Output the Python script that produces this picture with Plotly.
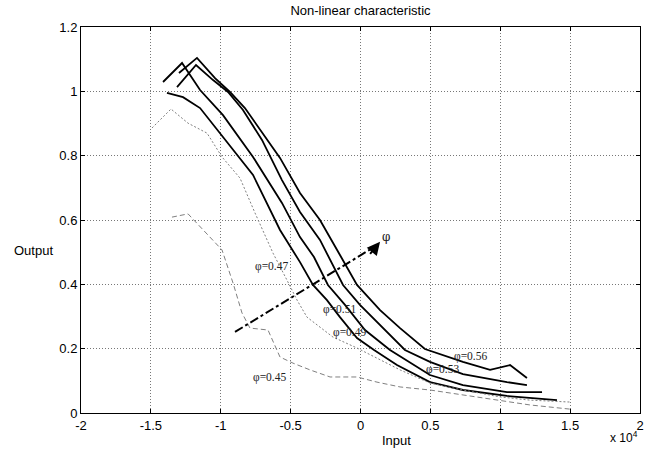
import plotly.graph_objects as go

# Input values in units of 10^4
x_056 = [-1.299, -1.170, -1.041, -0.934, -0.827, -0.705, -0.576, -0.433, -0.290, -0.147, -0.025, 0.140, 0.283, 0.461, 0.733, 0.927, 1.070, 1.191]
y_056 = [1.057, 1.104, 1.041, 0.998, 0.948, 0.873, 0.793, 0.684, 0.600, 0.491, 0.398, 0.320, 0.264, 0.199, 0.159, 0.134, 0.149, 0.109]

x_053 = [-1.313, -1.177, -1.055, -0.948, -0.841, -0.705, -0.562, -0.433, -0.290, -0.125, -0.004, 0.140, 0.318, 0.497, 0.733, 1.048, 1.191]
y_053 = [1.013, 1.082, 1.035, 0.998, 0.942, 0.849, 0.724, 0.625, 0.538, 0.398, 0.336, 0.274, 0.196, 0.159, 0.121, 0.096, 0.087]

x_051 = [-1.413, -1.277, -1.148, -0.984, -0.769, -0.562, -0.433, -0.333, -0.233, -0.111, 0.032, 0.211, 0.497, 0.733, 1.048, 1.299]
y_051 = [1.029, 1.088, 1.004, 0.926, 0.796, 0.653, 0.547, 0.485, 0.398, 0.336, 0.258, 0.196, 0.118, 0.087, 0.065, 0.065]

x_049 = [-1.385, -1.270, -1.148, -1.005, -0.769, -0.576, -0.433, -0.340, -0.240, -0.147, -0.025, 0.097, 0.261, 0.497, 0.733, 1.048, 1.406]
y_049 = [0.995, 0.982, 0.948, 0.870, 0.740, 0.569, 0.469, 0.398, 0.351, 0.298, 0.233, 0.196, 0.149, 0.096, 0.0715, 0.053, 0.040]

x_047 = [-1.492, -1.356, -1.234, -1.098, -0.991, -0.862, -0.755, -0.626, -0.526, -0.454, -0.383, -0.197, -0.025, 0.283, 0.497, 0.733, 0.998, 1.213, 1.500]
y_047 = [0.886, 0.945, 0.901, 0.870, 0.796, 0.730, 0.622, 0.497, 0.413, 0.351, 0.298, 0.236, 0.202, 0.134, 0.093, 0.0715, 0.050, 0.040, 0.034]

x_045 = [-1.349, -1.234, -0.991, -0.912, -0.848, -0.791, -0.662, -0.576, -0.483, -0.361, -0.218, -0.025, 0.118, 0.283, 0.497, 0.733, 0.998, 1.213, 1.500]
y_045 = [0.609, 0.619, 0.507, 0.404, 0.311, 0.264, 0.258, 0.174, 0.155, 0.134, 0.112, 0.112, 0.096, 0.081, 0.0715, 0.056, 0.040, 0.025, 0.012]

label_text = ["φ=0.47", "φ=0.45", "φ=0.51", "φ=0.49", "φ=0.53", "φ=0.56"]
label_x = [-0.640, -0.648, -0.147, -0.082, 0.590, 0.790]
label_y = [0.457, 0.109, 0.323, 0.249, 0.136, 0.176]

arrow_x = [-0.898, 0.120]
arrow_y = [0.252, 0.522]
arrow_tip = (0.140, 0.532)
phi_label = (0.185, 0.548)

x_ticks = [-2, -1.5, -1, -0.5, 0, 0.5, 1, 1.5, 2]
y_ticks = [0, 0.2, 0.4, 0.6, 0.8, 1, 1.2]

fig = go.Figure()
black = dict(color="black", width=1.8)
for xs, ys in [(x_056, y_056), (x_053, y_053), (x_051, y_051), (x_049, y_049)]:
    fig.add_trace(go.Scatter(x=xs, y=ys, mode="lines", line=black, showlegend=False))
fig.add_trace(go.Scatter(x=x_047, y=y_047, mode="lines",
                         line=dict(color="#808080", width=1, dash="2px,2px"), showlegend=False))
fig.add_trace(go.Scatter(x=x_045, y=y_045, mode="lines",
                         line=dict(color="#808080", width=1, dash="5px,3px"), showlegend=False))
fig.add_trace(go.Scatter(x=arrow_x, y=arrow_y, mode="lines",
                         line=dict(color="black", width=2, dash="dashdot"), showlegend=False))

fig.add_annotation(x=arrow_tip[0], y=arrow_tip[1], ax=arrow_x[1] - 0.06, ay=arrow_y[1] - 0.032,
                   axref="x", ayref="y", xref="x", yref="y", text="", showarrow=True,
                   arrowhead=2, arrowsize=1.3, arrowwidth=2, arrowcolor="black")
fig.add_annotation(x=phi_label[0], y=phi_label[1], text="φ", showarrow=False,
                   font=dict(family="DejaVu Serif", size=12, color="#222222"))

for t, lx, ly in zip(label_text, label_x, label_y):
    fig.add_annotation(x=lx, y=ly, text=t, showarrow=False,
                       font=dict(family="Liberation Serif", size=11.5, color="#222222"))

fig.add_annotation(xref="paper", yref="paper", x=-0.0465, y=0.422, text="Output",
                   showarrow=False, xanchor="right",
                   font=dict(family="Liberation Sans", size=13, color="black"))
fig.add_annotation(xref="paper", yref="paper", x=0.565, y=-0.072, text="Input",
                   showarrow=False, yanchor="middle",
                   font=dict(family="Liberation Sans", size=13, color="black"))
fig.add_annotation(xref="paper", yref="paper", x=1.0, y=-0.062, text="x 10<sup>4</sup>",
                   showarrow=False, xanchor="right", yanchor="middle",
                   font=dict(family="Liberation Sans", size=12, color="black"))

axis_common = dict(showgrid=True, gridcolor="#777777", griddash="1px,2px", gridwidth=1,
                   showline=True, linecolor="black", linewidth=1, mirror="ticks",
                   ticks="inside", ticklen=4, tickcolor="black", zeroline=False,
                   tickfont=dict(family="Liberation Sans", size=13, color="black"))
fig.update_xaxes(range=[-2, 2], tickvals=x_ticks, ticktext=[f"{v:g}" for v in x_ticks], **axis_common)
fig.update_yaxes(range=[0, 1.2], tickvals=y_ticks, ticktext=[f"{v:g}" for v in y_ticks], **axis_common)

fig.update_layout(
    width=659, height=456,
    margin=dict(l=81, r=19, t=27, b=43),
    paper_bgcolor="white", plot_bgcolor="white",
    title=dict(text="Non-linear characteristic", x=0.547, xanchor="center", y=0.978, yanchor="middle",
               font=dict(family="Liberation Sans", size=13, color="black")),
    showlegend=False,
)

fig.write_html("out.html")
